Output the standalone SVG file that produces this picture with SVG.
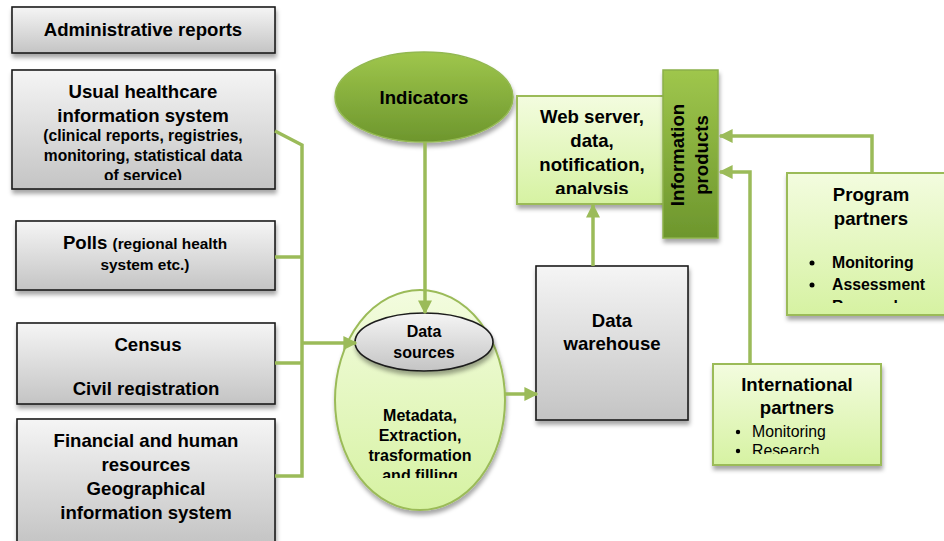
<svg xmlns="http://www.w3.org/2000/svg" width="944" height="541" viewBox="0 0 944 541">
  <style>
    text { font-family: "Liberation Sans", Arial, sans-serif; font-weight: bold; fill: #000; text-anchor: middle; }
    .t17 { font-size: 18.6px; }
    .t14 { font-size: 15.6px; }
    .t16 { font-size: 16px; }
    .t15 { font-size: 15.8px; }
    .t13 { font-size: 15.4px; }
    .norm { font-weight: normal; }
    .left { text-anchor: start; }
    .grayBox { fill: url(#gGray); stroke: #1c1c1c; stroke-width: 1.6; filter: url(#shadow); }
    .lightBox { fill: url(#gLight); stroke: #9bbb59; stroke-width: 2; filter: url(#shadow); }
    .wire { fill: none; stroke: #9bbb59; stroke-width: 3.5; stroke-linejoin: miter; }
  </style>
  <defs>
    <linearGradient id="gGray" x1="0" y1="0" x2="0" y2="1">
      <stop offset="0" stop-color="#f5f5f5"/>
      <stop offset="1" stop-color="#c4c4c4"/>
    </linearGradient>
    <linearGradient id="gLight" x1="0" y1="0" x2="0" y2="1">
      <stop offset="0" stop-color="#f3fcdf"/>
      <stop offset="1" stop-color="#d6f2a2"/>
    </linearGradient>
    <linearGradient id="gGreen" x1="0" y1="0" x2="0" y2="1">
      <stop offset="0" stop-color="#9fc64c"/>
      <stop offset="1" stop-color="#6d962d"/>
    </linearGradient>
    <filter id="shadow" x="-10%" y="-10%" width="125%" height="130%">
      <feDropShadow dx="1" dy="4" stdDeviation="2" flood-color="#000" flood-opacity="0.35"/>
    </filter>
    <marker id="arrow" viewBox="0 0 10 10" refX="9" refY="5" markerWidth="4" markerHeight="4" markerUnits="strokeWidth" orient="auto">
      <path d="M0,0 L10,5 L0,10 Z" fill="#9bbb59"/>
    </marker>
    <clipPath id="cUsual"><rect x="12" y="70" width="263" height="110"/></clipPath>
    <clipPath id="cCensus"><rect x="17" y="323" width="258" height="73"/></clipPath>
    <clipPath id="cWeb"><rect x="517" y="96" width="150" height="98"/></clipPath>
    <clipPath id="cMeta"><rect x="335" y="400" width="170" height="78"/></clipPath>
    <clipPath id="cProg"><rect x="787" y="173" width="157" height="130"/></clipPath>
    <clipPath id="cIntl"><rect x="713" y="364" width="168" height="90"/></clipPath>
  </defs>

  <g id="admin-reports">
    <rect class="grayBox" x="12" y="7" width="263" height="46"/>
    <text class="t17" x="143" y="36">Administrative reports</text>
  </g>

  <g id="usual-healthcare">
    <rect class="grayBox" x="12" y="70" width="263" height="119"/>
    <g clip-path="url(#cUsual)">
      <text class="t17" x="143" y="98">Usual healthcare</text>
      <text class="t17" x="143" y="122">information system</text>
      <text class="t14" x="143" y="141">(clinical reports, registries,</text>
      <text class="t14" x="143" y="161">monitoring, statistical data</text>
      <text class="t14" x="143" y="181">of service)</text>
    </g>
  </g>

  <g id="polls">
    <rect class="grayBox" x="16" y="221" width="259" height="69"/>
    <text class="t17" x="145" y="249">Polls <tspan class="t13">(regional health</tspan></text>
    <text class="t13" x="145" y="270">system etc.)</text>
  </g>

  <g id="census">
    <rect class="grayBox" x="17" y="323" width="258" height="81"/>
    <g clip-path="url(#cCensus)">
      <text class="t17" x="148" y="351">Census</text>
      <text class="t17" x="146" y="395">Civil registration</text>
    </g>
  </g>

  <g id="financial">
    <rect class="grayBox" x="17" y="419" width="258" height="125"/>
    <text class="t17" x="146" y="447">Financial and human</text>
    <text class="t17" x="146" y="471">resources</text>
    <text class="t17" x="146" y="495">Geographical</text>
    <text class="t17" x="146" y="519">information system</text>
  </g>

  <g id="indicators">
    <ellipse cx="424" cy="97" rx="89" ry="45" fill="url(#gGreen)" stroke="#93b851" stroke-width="1.5" filter="url(#shadow)"/>
    <text class="t17" x="424" y="104">Indicators</text>
  </g>

  <g id="etl">
    <ellipse cx="420" cy="400" rx="85" ry="110" fill="url(#gLight)" stroke="#9bbb59" stroke-width="2" filter="url(#shadow)"/>
    <g clip-path="url(#cMeta)">
      <text class="t16" x="420" y="421">Metadata,</text>
      <text class="t16" x="420" y="441">Extraction,</text>
      <text class="t16" x="420" y="461">trasformation</text>
      <text class="t16" x="420" y="481">and filling</text>
    </g>
  </g>

  <g id="data-sources">
    <ellipse cx="424" cy="342" rx="69" ry="29" fill="url(#gGray)" stroke="#1c1c1c" stroke-width="1.6" filter="url(#shadow)"/>
    <text class="t16" x="424" y="337">Data</text>
    <text class="t16" x="424" y="358">sources</text>
  </g>

  <g id="data-warehouse">
    <rect class="grayBox" x="536" y="266" width="152" height="154"/>
    <text class="t17" x="612" y="327">Data</text>
    <text class="t17" x="612" y="350">warehouse</text>
  </g>

  <g id="web-server">
    <rect class="lightBox" x="517" y="96" width="150" height="108"/>
    <g clip-path="url(#cWeb)">
      <text class="t17" x="592" y="123">Web server,</text>
      <text class="t17" x="592" y="147">data,</text>
      <text class="t17" x="592" y="171">notification,</text>
      <text class="t17" x="592" y="195">analysis</text>
    </g>
  </g>

  <g id="information-products">
    <rect x="663" y="70" width="55" height="168" fill="url(#gGreen)" stroke="#8cb04a" stroke-width="1.5" filter="url(#shadow)"/>
    <text class="t17" transform="translate(684,155) rotate(-90)">Information</text>
    <text class="t17" transform="translate(708,155) rotate(-90)">products</text>
  </g>

  <g id="program-partners">
    <rect class="lightBox" x="787" y="173" width="170" height="142"/>
    <g clip-path="url(#cProg)">
      <text class="t17" x="871" y="201">Program</text>
      <text class="t17" x="871" y="225">partners</text>
      <circle cx="812" cy="263" r="2.5"/>
      <text class="t15 left" x="832" y="268">Monitoring</text>
      <circle cx="812" cy="285" r="2.5"/>
      <text class="t15 left" x="832" y="290">Assessment</text>
      <circle cx="812" cy="307" r="2.5"/>
      <text class="t15 left" x="832" y="312">Research</text>
    </g>
  </g>

  <g id="international-partners">
    <rect class="lightBox" x="713" y="364" width="168" height="101"/>
    <text class="t17" x="797" y="391">International</text>
    <text class="t17" x="797" y="414">partners</text>
    <g clip-path="url(#cIntl)">
      <circle cx="738" cy="432" r="2.2"/>
      <text class="t15 left norm" x="752" y="437">Monitoring</text>
      <circle cx="738" cy="451" r="2.2"/>
      <text class="t15 left norm" x="752" y="456">Research</text>
    </g>
  </g>

  <!-- connectors, drawn last so they run over the ETL ellipse -->
  <g id="connectors">
    <path class="wire" d="M275,131 L302,145 L302,476 L275,476"/>
    <path class="wire" d="M275,257 L302,257"/>
    <path class="wire" d="M275,363 L302,363"/>
    <path class="wire" d="M302,343 L356,343" marker-end="url(#arrow)"/>
    <path class="wire" d="M425,142 L425,313" marker-end="url(#arrow)"/>
    <path class="wire" d="M505,394 L537,394" marker-end="url(#arrow)"/>
    <path class="wire" d="M593,266 L593,205" marker-end="url(#arrow)"/>
    <path class="wire" d="M872,172 L872,136 L720,136" marker-end="url(#arrow)"/>
    <path class="wire" d="M750,363 L750,172 L720,172" marker-end="url(#arrow)"/>
  </g>
</svg>
